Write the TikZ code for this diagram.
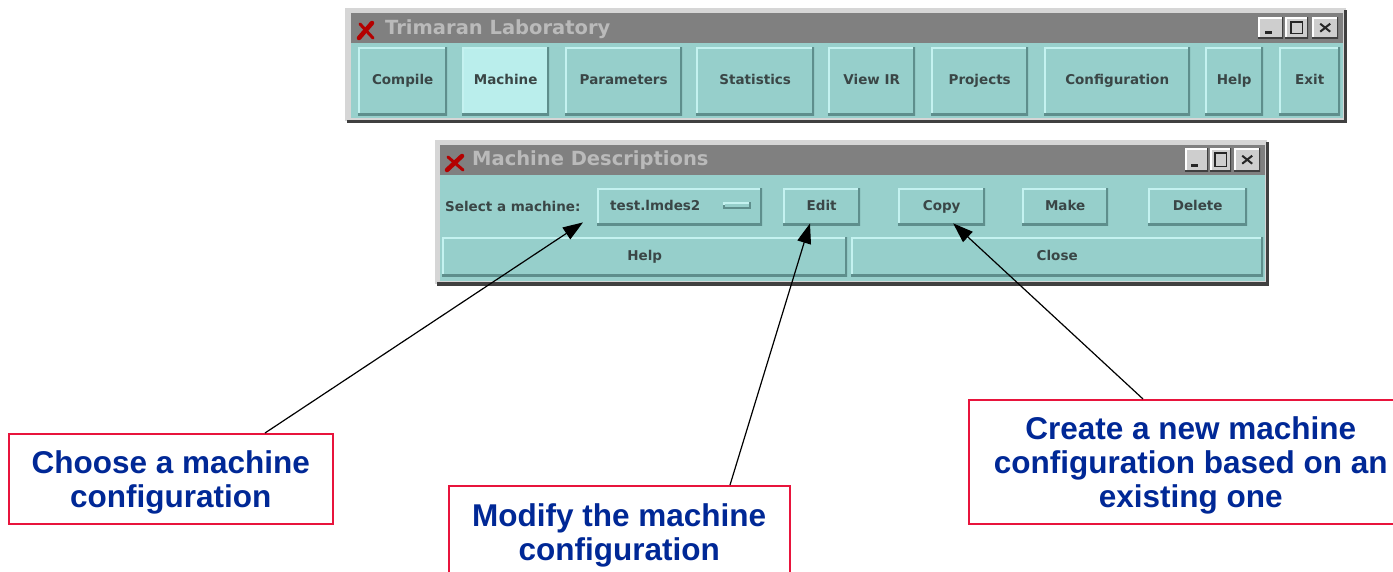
\documentclass[tikz,border=0pt]{standalone}
\usepackage{fontspec}
\usetikzlibrary{arrows.meta}
\newfontfamily\lblfamily{Liberation Sans}
\newfontfamily\dejafam{DejaVu Sans}
\newcommand\lblfont{\lblfamily\bfseries\fontsize{31.5}{34}\selectfont}
\newcommand\btnfont{\dejafam\bfseries\fontsize{13.5}{15}\selectfont}
\newcommand\ttlfont{\dejafam\bfseries\fontsize{19.5}{22}\selectfont}
\newcommand\lblstrut{\rule{0pt}{31pt}}
\definecolor{framegray}{RGB}{214,214,214}
\definecolor{framedark}{RGB}{64,64,64}
\definecolor{titlegray}{RGB}{128,128,128}
\definecolor{titletext}{RGB}{186,186,186}
\definecolor{bodyteal}{RGB}{152,208,204}
\definecolor{btnface}{RGB}{150,207,203}
\definecolor{btnactive}{RGB}{186,238,236}
\definecolor{btnlight}{RGB}{196,242,240}
\definecolor{btndark}{RGB}{94,142,140}
\definecolor{btntext}{RGB}{58,70,70}
\definecolor{redbox}{RGB}{232,20,60}
\definecolor{bluetext}{RGB}{0,40,150}
\definecolor{iconred}{RGB}{180,0,0}
\definecolor{tbface}{RGB}{206,206,206}
\tikzset{
  bevel/.style={path picture={
    \draw[btnlight,line width=4pt] (path picture bounding box.south west) -- (path picture bounding box.north west) -- (path picture bounding box.north east);
    \draw[btndark,line width=4pt] (path picture bounding box.south west) -- (path picture bounding box.south east) -- (path picture bounding box.north east);}},
  gbtn/.style={anchor=north west, fill=btnface, inner sep=0pt, font=\btnfont, text=btntext, text height=10pt, text depth=3pt, bevel},
  tbtn/.style={anchor=north west, fill=tbface, inner sep=0pt, path picture={
    \draw[white,line width=3pt] (path picture bounding box.south west) -- (path picture bounding box.north west) -- (path picture bounding box.north east);
    \draw[framedark,line width=3pt] (path picture bounding box.south west) -- (path picture bounding box.south east) -- (path picture bounding box.north east);}},
  ttl/.style={anchor=west, font=\ttlfont, text=titletext, inner sep=0pt},
  lblbox/.style={draw=redbox, line width=1.5pt, fill=white, anchor=north west, align=center, font=\lblfont, text=bluetext, inner sep=0pt},
  arr/.style={black, line width=1.2pt, -{Triangle[length=20pt,width=14pt]}},
  glyph/.style={black!85, line width=1.3pt}
}
\begin{document}
\begin{tikzpicture}[x=1pt,y=-1pt]
\useasboundingbox (0,0) rectangle (1393,571);
\fill[white] (0,0) rectangle (1393,571);

% ---------- Window 1: Trimaran Laboratory ----------
\fill[framegray] (345,8) rectangle (1346,121);
\fill[framedark] (347,120) rectangle (1347,123);
\fill[framedark] (1344,10) rectangle (1347,123);
\fill[titlegray] (351,13) rectangle (1343,43);
\fill[bodyteal] (351,43) rectangle (1343,118);
\draw[iconred, line width=4.5pt, line cap=round] (359,38) -- (372,23);
\draw[iconred, line width=3pt, line cap=round] (360,24) -- (373,38);
\node[ttl] (t1) at (385,29) {Trimaran Laboratory};

\node[tbtn, minimum width=25, minimum height=21] (t1min) at (1258,17) {};
\node[tbtn, minimum width=23, minimum height=21] (t1max) at (1285,17) {};
\node[tbtn, minimum width=26, minimum height=21] (t1cls) at (1312,17) {};
\fill[black!85] ([xshift=7pt,yshift=4pt]t1min.south west) rectangle ([xshift=14pt,yshift=7pt]t1min.south west);
\draw[glyph] ([xshift=6pt,yshift=5pt]t1max.south west) rectangle ([xshift=-6pt,yshift=-5pt]t1max.north east);
\draw[glyph, line width=2pt] ([xshift=-5pt,yshift=-4pt]t1cls.center) -- ([xshift=5pt,yshift=4pt]t1cls.center);
\draw[glyph, line width=2pt] ([xshift=-5pt,yshift=4pt]t1cls.center) -- ([xshift=5pt,yshift=-4pt]t1cls.center);

\node[gbtn, minimum width=89, minimum height=68] (compile) at (358,47) {Compile};
\node[gbtn, fill=btnactive, minimum width=87, minimum height=68] (machine) at (462,47) {Machine};
\node[gbtn, minimum width=117, minimum height=68] (params) at (565,47) {Parameters};
\node[gbtn, minimum width=118, minimum height=68] (stats) at (696,47) {Statistics};
\node[gbtn, minimum width=87, minimum height=68] (viewir) at (828,47) {View IR};
\node[gbtn, minimum width=97, minimum height=68] (projects) at (931,47) {Projects};
\node[gbtn, minimum width=146, minimum height=68] (config) at (1044,47) {Configuration};
\node[gbtn, minimum width=58, minimum height=68] (help1) at (1205,47) {Help};
\node[gbtn, minimum width=61, minimum height=68] (exit) at (1279,47) {Exit};

% ---------- Window 2: Machine Descriptions ----------
\fill[framegray] (435,140) rectangle (1267,284);
\fill[framedark] (437,282) rectangle (1269,286);
\fill[framedark] (1266,142) rectangle (1269,286);
\fill[titlegray] (440,145) rectangle (1265,175);
\fill[bodyteal] (440,175) rectangle (1265,281);
\draw[iconred, line width=4.5pt, line cap=round] (447,170) -- (462,156);
\draw[iconred, line width=3pt, line cap=round] (448,157) -- (463,170);
\node[ttl] (t2) at (472,160) {Machine Descriptions};

\node[tbtn, minimum width=23, minimum height=23] (t2min) at (1185,148) {};
\node[tbtn, minimum width=21, minimum height=23] (t2max) at (1210,148) {};
\node[tbtn, minimum width=26, minimum height=23] (t2cls) at (1234,148) {};
\fill[black!85] ([xshift=6pt,yshift=4pt]t2min.south west) rectangle ([xshift=13pt,yshift=7pt]t2min.south west);
\draw[glyph] ([xshift=5pt,yshift=5pt]t2max.south west) rectangle ([xshift=-5pt,yshift=-5pt]t2max.north east);
\draw[glyph, line width=2pt] ([xshift=-5pt,yshift=-4pt]t2cls.center) -- ([xshift=5pt,yshift=4pt]t2cls.center);
\draw[glyph, line width=2pt] ([xshift=-5pt,yshift=4pt]t2cls.center) -- ([xshift=5pt,yshift=-4pt]t2cls.center);

\node[anchor=west, font=\btnfont, text=btntext, inner sep=0pt] (sel) at (445,206) {Select a machine:};
\node[gbtn, minimum width=165, minimum height=37, text width=139pt, align=left, inner xsep=13pt] (dd) at (597,188) {test.lmdes2};
\fill[btndark] (723,202) rectangle (751,209);
\fill[btnlight] (723,202) rectangle (749,205);
\fill[btnface] (725,204) rectangle (749,207);
\node[gbtn, minimum width=77, minimum height=37] (edit) at (783,188) {Edit};
\node[gbtn, minimum width=87, minimum height=37] (copy) at (898,188) {Copy};
\node[gbtn, minimum width=86, minimum height=37] (make) at (1022,188) {Make};
\node[gbtn, minimum width=99, minimum height=37] (delete) at (1148,188) {Delete};
\node[gbtn, minimum width=405, minimum height=39] (help2) at (442,237) {Help};
\node[gbtn, minimum width=412, minimum height=39] (close) at (851,237) {Close};

% ---------- Callout boxes ----------
\node[lblbox, minimum width=324, minimum height=90] (box1) at (8,433) {\lblstrut Choose a machine\\configuration};
\node[lblbox, minimum width=341, minimum height=92] (box2) at (448,485) {\lblstrut Modify the machine\\configuration};
\node[lblbox, minimum width=444, minimum height=124] (box3) at (968,399) {\lblstrut Create a new machine\\configuration based on an\\existing one};

% ---------- Arrows ----------
\draw[arr] ([xshift=257pt]box1.north west) -- ([xshift=-14pt,yshift=3pt]dd.south west);
\draw[arr] ([xshift=282pt]box2.north west) -- ([xshift=27pt,yshift=2pt]edit.south west);
\draw[arr] ([xshift=175pt]box3.north west) -- ([xshift=11.5pt,yshift=2pt]copy.south);
\end{tikzpicture}
\end{document}
